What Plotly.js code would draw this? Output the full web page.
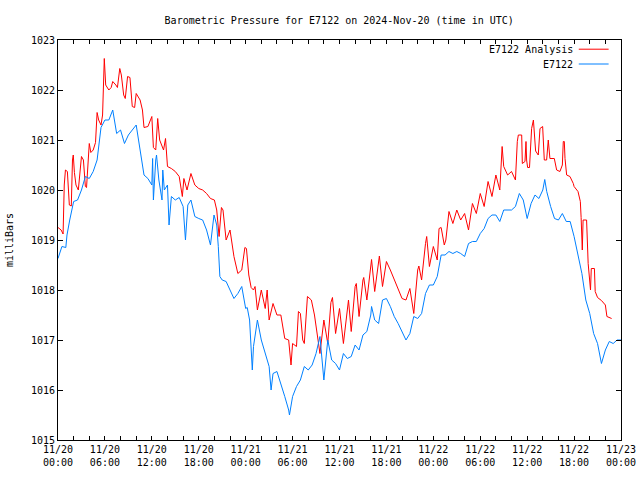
<!DOCTYPE html>
<html>
<head>
<meta charset="utf-8">
<script src="https://cdn.plot.ly/plotly-3.0.1.min.js"></script>
<style>html,body{margin:0;padding:0;background:#fff}#chart{width:640px;height:480px}</style>
</head>
<body>
<div id="chart"></div>
<script>
// Hours after 2024-11-20 00:00 UTC, and pressure in millibars
const analysisHours = [0,0.4,0.65,0.8,0.95,1.2,1.45,1.7,1.85,1.95,2.1,2.3,2.6,2.8,3.0,3.25,3.5,3.65,3.8,4.0,4.2,4.5,4.8,5.0,5.2,5.5,5.7,5.92,6.1,6.5,6.8,7.0,7.4,7.6,7.9,8.1,8.4,8.6,8.9,9.2,9.5,9.8,10.0,10.5,10.8,11.0,11.5,11.8,12.0,12.2,12.5,12.75,13.0,13.5,13.75,14.0,14.5,15.0,15.5,15.9,16.1,16.5,17.0,17.5,18.0,18.5,19.0,19.5,20.0,20.3,20.6,20.9,21.1,21.5,22.0,22.5,23.0,23.5,23.9,24.1,24.4,24.7,25.0,25.2,25.5,26.0,26.5,26.75,27.0,27.5,28.0,28.5,29.0,29.5,29.8,30.0,30.5,30.75,31.0,31.3,31.5,31.9,32.4,32.8,33.0,33.5,34.0,34.5,34.9,35.1,35.5,36.0,36.5,37.0,37.15,37.5,38.0,38.15,38.5,39.0,39.1,39.5,40.0,40.1,40.5,41.0,41.1,41.5,42.0,42.5,43.0,43.5,44.0,44.5,45.0,45.5,46.0,46.15,46.5,47.0,47.15,47.5,48.0,48.5,48.73,49.0,49.4,49.6,50.0,50.5,51.0,51.5,52.0,52.5,53.0,53.5,54.0,54.5,55.0,55.5,56.0,56.5,56.8,57.0,57.5,58.0,58.5,58.74,58.87,59.3,59.38,59.72,59.85,59.93,60.06,60.3,60.45,60.57,60.8,60.95,61.08,61.42,61.64,61.98,62.19,62.49,62.7,62.91,63.47,63.77,64.19,64.5,64.62,64.75,64.84,65.05,65.47,65.9,66.0,66.5,66.8,66.9,67.05,67.15,67.6,67.8,68.0,68.1,68.2,68.6,68.7,69.0,69.5,70.0,70.2,70.8];
const analysisValues = [1019.25,1019.2,1019.12,1020.1,1020.4,1020.37,1019.7,1019.68,1020.6,1020.7,1020.35,1020.1,1020.0,1020.3,1020.67,1020.6,1020.07,1020.05,1020.4,1020.93,1020.75,1020.8,1020.95,1021.55,1021.4,1021.3,1021.5,1022.63,1022.1,1022.0,1022.05,1022.17,1022.1,1022.05,1022.43,1022.3,1021.9,1021.83,1022.27,1022.25,1021.67,1021.65,1021.93,1021.8,1021.6,1021.25,1021.27,1021.42,1021.47,1020.85,1020.8,1021.43,1021.0,1020.8,1021.03,1020.47,1020.43,1020.37,1020.27,1019.87,1020.23,1020.0,1020.33,1020.1,1020.03,1020.0,1019.93,1019.83,1019.8,1019.6,1019.07,1019.65,1019.6,1019.0,1019.2,1018.67,1018.33,1018.4,1018.85,1018.83,1018.3,1018.05,1018.0,1018.07,1017.6,1018.0,1017.63,1018.0,1017.4,1017.73,1017.5,1017.5,1017.03,1017.0,1016.5,1016.93,1016.87,1017.57,1017.53,1017.0,1016.93,1017.87,1017.8,1017.5,1017.3,1016.73,1017.4,1016.93,1017.75,1017.85,1017.13,1017.63,1016.93,1017.7,1017.8,1017.17,1018.07,1018.13,1017.47,1018.2,1018.25,1017.8,1018.4,1018.61,1017.97,1018.57,1018.68,1018.07,1018.57,1018.4,1018.2,1018.0,1017.83,1017.8,1018.03,1017.53,1018.4,1018.48,1018.2,1018.93,1019.07,1018.47,1018.87,1018.6,1019.23,1019.25,1018.9,1019.0,1019.57,1019.33,1019.6,1019.4,1019.53,1019.2,1019.73,1019.53,1019.93,1019.67,1020.17,1019.87,1020.3,1020.0,1020.87,1020.47,1020.3,1020.37,1020.2,1020.97,1021.1,1021.1,1020.53,1020.57,1020.97,1020.6,1020.45,1020.45,1020.8,1021.23,1021.4,1020.9,1020.78,1020.7,1021.23,1021.27,1020.6,1020.6,1021.0,1020.63,1020.63,1020.4,1020.37,1020.5,1020.97,1020.97,1020.63,1020.3,1020.27,1020.13,1020.07,1019.97,1019.77,1019.45,1018.8,1019.4,1019.4,1018.53,1018.13,1018.0,1018.43,1018.43,1017.97,1017.85,1017.79,1017.7,1017.47,1017.43];

const stationHours = [0,0.5,1.0,1.15,1.5,2.0,2.5,3.0,3.5,4.0,4.5,5.0,5.5,6.0,6.5,7.0,7.5,8.0,8.5,9.0,9.5,10.0,10.5,11.0,11.5,12.0,12.1,12.2,12.5,12.6,12.9,13.3,13.4,13.6,14.0,14.2,14.5,15.0,15.5,16.0,16.3,16.6,17.0,17.5,18.0,18.5,19.0,19.5,19.95,20.3,20.5,20.7,21.0,21.5,22.0,22.5,23.0,23.5,24.0,24.2,24.5,24.85,25.0,25.5,26.0,26.5,27.0,27.25,27.5,28.0,28.5,29.0,29.5,29.6,30.0,30.5,31.0,31.5,32.0,32.5,33.0,33.5,34.0,34.5,35.0,35.5,36.0,36.5,37.0,37.5,38.0,38.5,39.0,39.5,40.0,40.1,40.5,41.0,41.5,42.0,42.5,43.0,43.5,44.0,44.5,45.0,45.5,46.0,46.5,47.0,47.5,48.0,48.5,49.0,49.5,50.0,50.5,51.0,51.5,52.0,52.5,53.0,53.5,54.0,54.5,55.0,55.5,56.0,56.5,57.0,57.5,58.0,58.5,59.0,59.5,60.0,60.5,61.0,61.5,62.0,62.25,62.5,63.0,63.5,64.0,64.5,65.0,65.5,66.0,66.5,67.0,67.5,68.0,68.5,69.0,69.5,70.0,70.5,71.0,71.5,72.0];
const stationValues = [1018.63,1018.87,1018.85,1019.1,1019.4,1019.77,1019.8,1020.0,1020.27,1020.23,1020.37,1020.6,1021.25,1021.4,1021.4,1021.6,1021.13,1021.2,1020.93,1021.1,1021.2,1021.3,1020.8,1020.3,1020.23,1020.1,1020.63,1019.8,1020.6,1020.7,1020.2,1019.8,1020.4,1020.0,1020.1,1019.3,1019.87,1019.8,1019.85,1019.67,1019.0,1019.7,1019.8,1019.47,1019.43,1019.4,1019.2,1018.9,1019.5,1019.3,1018.87,1018.27,1018.2,1018.17,1018.0,1017.83,1017.93,1018.07,1017.63,1017.65,1017.4,1016.4,1016.87,1017.4,1017.0,1016.73,1016.47,1016.0,1016.33,1016.37,1016.13,1015.87,1015.6,1015.5,1015.87,1016.07,1016.2,1016.47,1016.4,1016.5,1016.73,1017.07,1016.2,1017.0,1016.6,1016.53,1016.4,1016.73,1016.63,1016.67,1016.9,1016.8,1017.1,1017.17,1017.5,1017.67,1017.4,1017.33,1017.8,1017.83,1017.67,1017.47,1017.33,1017.17,1017.0,1017.13,1017.47,1017.43,1017.53,1017.93,1018.1,1018.1,1018.27,1018.7,1018.7,1018.77,1018.73,1018.77,1018.73,1018.67,1018.93,1018.97,1018.97,1019.13,1019.23,1019.43,1019.5,1019.5,1019.37,1019.6,1019.6,1019.6,1019.67,1019.93,1019.8,1019.43,1019.73,1019.9,1019.83,1020.0,1020.21,1019.97,1019.67,1019.43,1019.4,1019.53,1019.37,1019.37,1019.07,1018.73,1018.33,1017.8,1017.53,1017.13,1016.93,1016.53,1016.8,1016.97,1016.93,1017.0,1017.0];

const seriesNames = ['E7122 Analysis', 'E7122'];
const seriesColors = ['#ff0000', '#0080ff'];
const titleText = 'Barometric Pressure for E7122 on 2024-Nov-20 (time in UTC)';
const yTitle = 'milliBars';

const base = Date.UTC(2024, 10, 20, 0, 0, 0);
const toTime = hs => hs.map(h => base + h * 3600000);

const font = {family: 'DejaVu Sans Mono, Liberation Mono, monospace', size: 10, color: '#000'};

const traces = [
  {x: toTime(analysisHours), y: analysisValues, type: 'scatter', mode: 'lines', name: seriesNames[0],
   line: {color: seriesColors[0], width: 1}},
  {x: toTime(stationHours), y: stationValues, type: 'scatter', mode: 'lines', name: seriesNames[1],
   line: {color: seriesColors[1], width: 1}}
];

const legendY = [0.977, 0.94];
const layout = {
  width: 640, height: 480,
  margin: {l: 58, r: 19, t: 40, b: 40},
  paper_bgcolor: '#fff', plot_bgcolor: '#fff',
  font: font,
  showlegend: false,
  title: {text: titleText, font: font, x: 0.53, xanchor: 'center', y: 0.958, yanchor: 'middle'},
  xaxis: {
    type: 'date',
    range: [base, base + 72 * 3600000],
    tick0: base, dtick: 6 * 3600000,
    tickformat: '%m/%d<br>%H:%M',
    ticks: 'inside', ticklen: 4, tickcolor: '#000',
    minor: {dtick: 2 * 3600000, ticks: 'inside', ticklen: 4, tickcolor: '#000'},
    showline: true, linecolor: '#000', linewidth: 1, mirror: 'ticks',
    showgrid: false, zeroline: false, tickfont: font
  },
  yaxis: {
    range: [1015, 1023], dtick: 1, tick0: 1015,
    ticks: 'inside', ticklen: 5, tickcolor: '#000',
    showline: true, linecolor: '#000', linewidth: 1, mirror: 'ticks',
    showgrid: false, zeroline: false, tickfont: font,
    title: {text: yTitle, font: font, standoff: 15}
  },
  annotations: seriesNames.map((n, i) => ({
    text: n, xref: 'paper', yref: 'paper', x: 0.919, y: legendY[i],
    xanchor: 'right', yanchor: 'middle', showarrow: false, font: font
  })),
  shapes: seriesNames.map((n, i) => ({
    type: 'line', xref: 'paper', yref: 'paper', x0: 0.925, x1: 0.978, y0: legendY[i], y1: legendY[i],
    line: {color: seriesColors[i], width: 1}
  }))
};

Plotly.newPlot('chart', traces, layout, {staticPlot: true, displayModeBar: false});
</script>
</body>
</html>
